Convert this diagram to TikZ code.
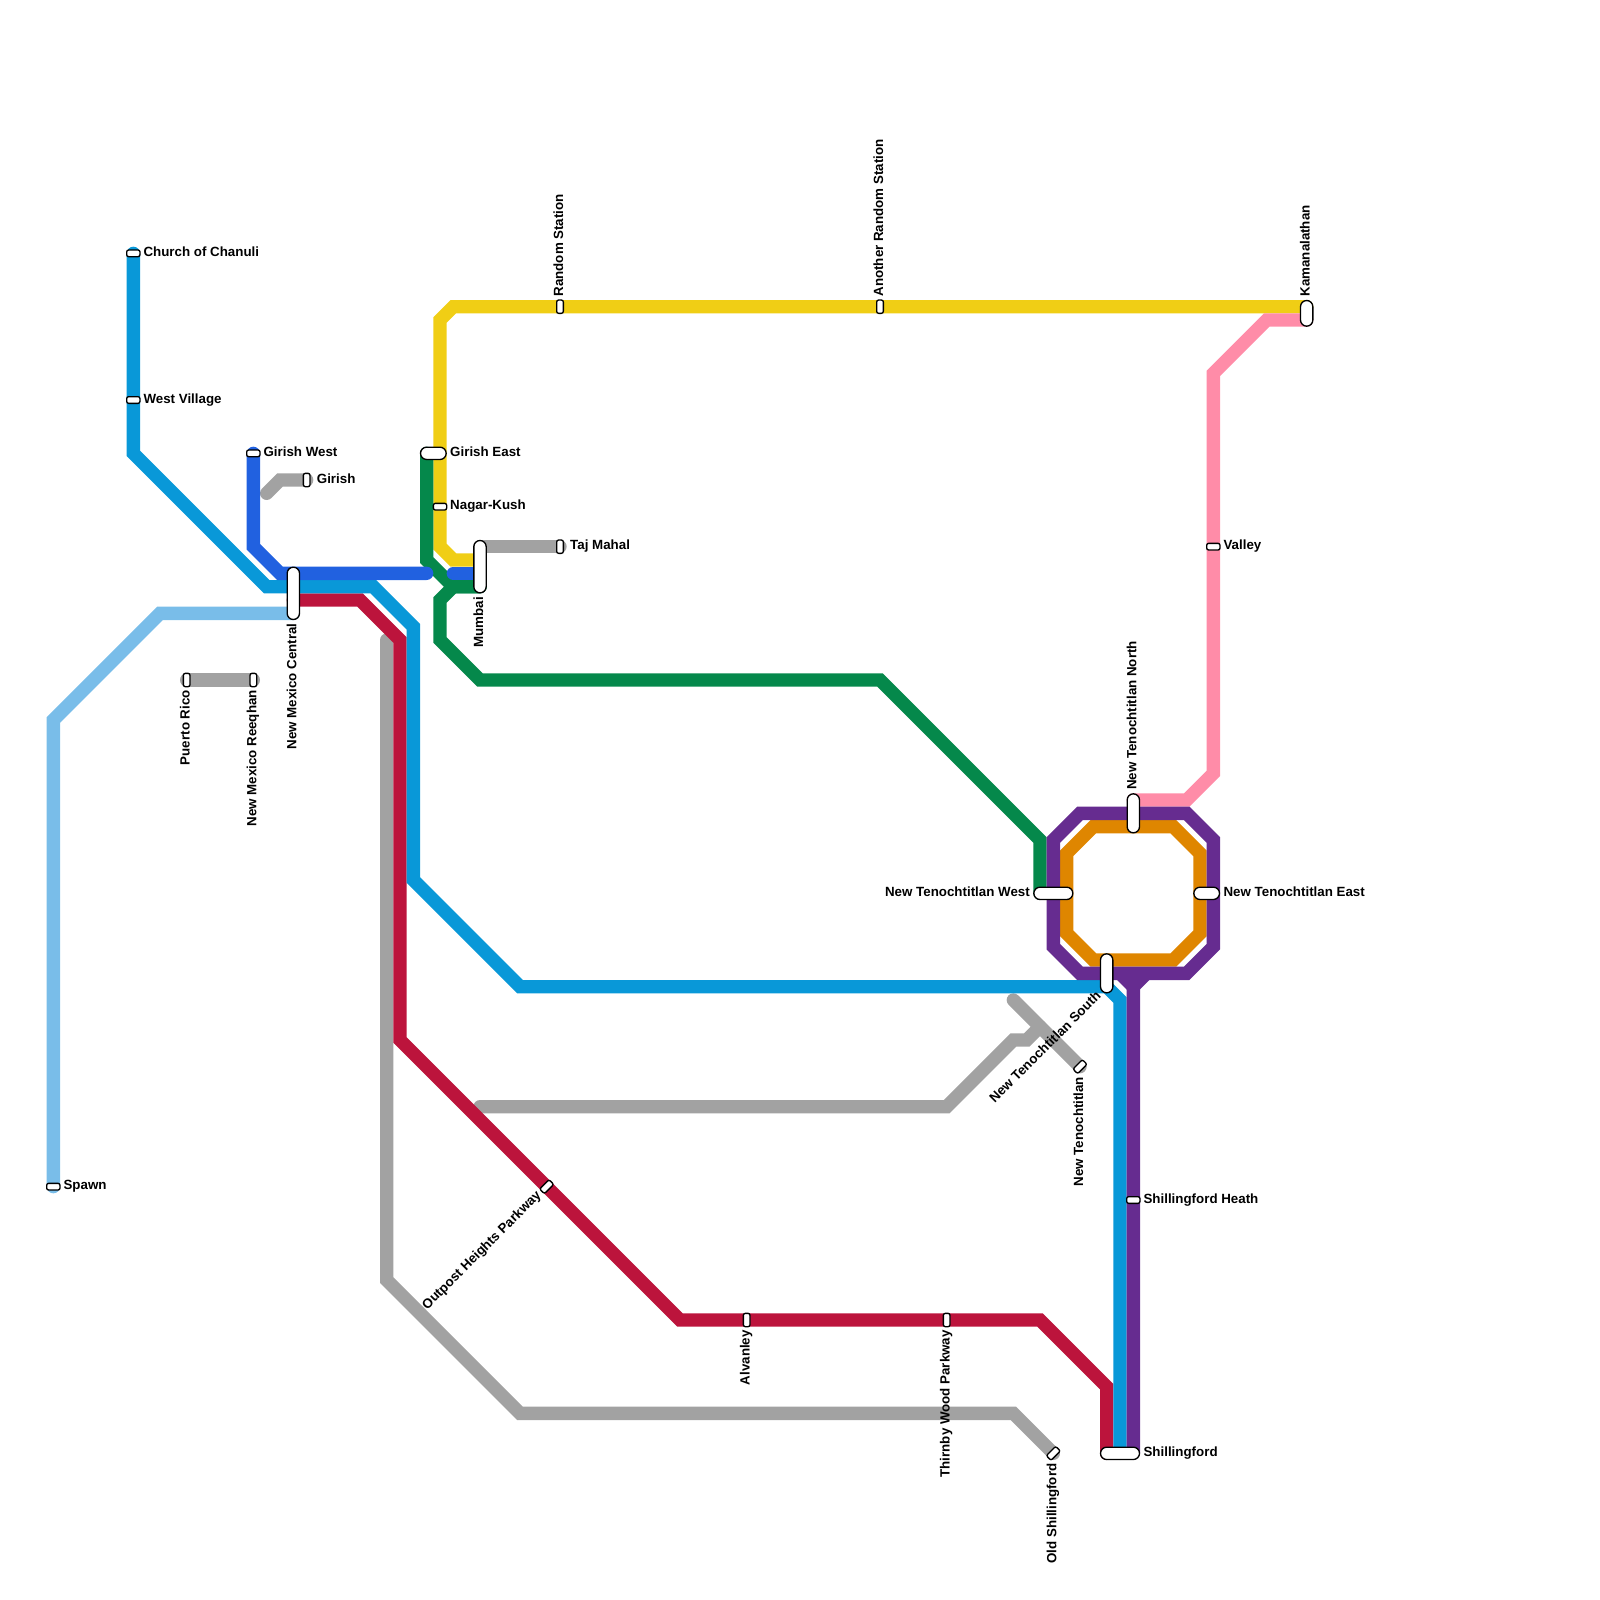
\documentclass[tikz,border=0pt]{standalone}
\usepackage{fontspec}
\setmainfont{Liberation Sans}

\tikzset{
  metro/.style={line width=4mm, line cap=round, line join=miter},
  stnh/.style={draw=black, fill=white, line width=0.4mm, inner sep=0pt, outer sep=0pt,
    minimum width=4mm, minimum height=2mm, rounded corners=0.6mm},
  stnv/.style={stnh, minimum width=2mm, minimum height=4mm},
  stnd/.style={stnh, rotate=45},
  caph/.style={draw=black, fill=white, line width=0.4mm, inner sep=0pt, outer sep=0pt,
    minimum height=3.7mm, minimum width=#1, rounded corners=1.85mm},
  capv/.style={draw=black, fill=white, line width=0.4mm, inner sep=0pt, outer sep=0pt,
    minimum width=3.7mm, minimum height=#1, rounded corners=1.85mm},
  lbl/.style={inner sep=0pt, text height=0.72em, text depth=0.2em,
    font=\fontsize{11.38}{13}\selectfont\bfseries},
  lblr/.style={lbl, anchor=west},
  lbll/.style={lbl, anchor=east},
  lblup/.style={lbl, rotate=90, anchor=west},
  lbldn/.style={lbl, rotate=90, anchor=east},
  lbldg/.style={lbl, rotate=45, anchor=east}
}

\begin{document}
\begin{tikzpicture}[x=4mm,y=-4mm]
  % colors
  \definecolor{lineblue}{RGB}{9,152,216}
  \definecolor{linedark}{RGB}{33,97,224}
  \definecolor{linesky}{RGB}{121,189,233}
  \definecolor{lineyellow}{RGB}{240,206,21}
  \definecolor{linegreen}{RGB}{5,136,75}
  \definecolor{linered}{RGB}{188,20,60}
  \definecolor{linegrey}{RGB}{162,162,162}
  \definecolor{linepurple}{RGB}{102,44,144}
  \definecolor{lineorange}{RGB}{223,134,0}
  \definecolor{linepink}{RGB}{255,140,168}

  \useasboundingbox (0,0) rectangle (120,120);

  % grey lines
  \draw[metro, linegrey] (20,37) -- (21,36) -- (23,36);
  \draw[metro, linegrey] (36,41) -- (42,41);
  \draw[metro, linegrey] (14,51) -- (19,51);
  \draw[metro, linegrey] (29,48) -- (29,96) -- (39,106) -- (76,106) -- (79,109);
  \draw[metro, linegrey] (36,83) -- (71,83) -- (76,78) -- (77,78) -- (78,77);
  \draw[metro, linegrey] (76,75) -- (81,80);

  % yellow and pink
  \draw[metro, lineyellow] (98,23) -- (34,23) -- (33,24) -- (33,41) -- (34,42) -- (36,42);
  \draw[metro, linepink] (98,24) -- (95,24) -- (91,28) -- (91,58) -- (89,60) -- (85,60);

  % green
  \draw[metro, linegreen] (32,34) -- (32,42) -- (34,44) -- (36,44);
  \draw[metro, linegreen] (36,44) -- (34,44) -- (33,45) -- (33,48) -- (36,51) -- (66,51) -- (78,63) -- (78,67);

  % red and light blue
  \draw[metro, linered] (22,45) -- (27,45) -- (30,48) -- (30,78) -- (51,99) -- (78,99) -- (83,104) -- (83,109);
  \draw[metro, linesky] (22,46) -- (12,46) -- (4,54) -- (4,89);

  % blue lines
  \draw[metro, lineblue] (10,19) -- (10,34) -- (20,44) -- (28,44) -- (31,47) -- (31,66) -- (39,74) -- (83,74) -- (84,75) -- (84,109);
  \draw[metro, linedark] (19,34) -- (19,41) -- (21,43) -- (32,43);
  \draw[metro, linedark] (34,43) -- (36,43);

  % ring
  \draw[metro, lineorange] (82,62) -- (88,62) -- (90,64) -- (90,70) -- (88,72) -- (82,72) -- (80,70) -- (80,64) -- cycle;
  \draw[metro, linepurple] (81,61) -- (89,61) -- (91,63) -- (91,71) -- (89,73) -- (81,73) -- (79,71) -- (79,63) -- cycle;
  \draw[metro, linepurple, line cap=butt] (86,73) -- (85,74) -- (85,109);
  \draw[metro, linepurple, line cap=butt] (84,73) -- (85,74);

  % stations
  \node[stnh] (stChurch) at (10,19) {};
  \node[stnh] (stWestVillage) at (10,30) {};
  \node[stnh] (stGirishWest) at (19,34) {};
  \node[stnv] (stGirish) at (23,36) {};
  \node[caph=7.7mm] (stGirishEast) at (32.5,34) {};
  \node[stnh] (stNagarKush) at (33,38) {};
  \node[capv=15.7mm] (stMumbai) at (36,42.5) {};
  \node[stnv] (stTajMahal) at (42,41) {};
  \node[capv=15.7mm] (stCentral) at (22,44.5) {};
  \node[stnv] (stPuertoRico) at (14,51) {};
  \node[stnv] (stReeqhan) at (19,51) {};
  \node[stnh] (stSpawn) at (4,89) {};
  \node[stnv] (stRandom) at (42,23) {};
  \node[stnv] (stAnother) at (66,23) {};
  \node[capv=7.7mm] (stKamanalathan) at (98,23.5) {};
  \node[stnh] (stValley) at (91,41) {};
  \node[capv=11.7mm] (stTenNorth) at (85,61) {};
  \node[caph=7.7mm] (stTenEast) at (90.5,67) {};
  \node[caph=11.7mm] (stTenWest) at (79,67) {};
  \node[capv=11.7mm] (stTenSouth) at (83,73) {};
  \node[stnd] (stTenochtitlan) at (81,80) {};
  \node[stnd] (stOutpost) at (41,89) {};
  \node[stnh] (stHeath) at (85,90) {};
  \node[stnv] (stAlvanley) at (56,99) {};
  \node[stnv] (stThirnby) at (71,99) {};
  \node[stnd] (stOld) at (79,109) {};
  \node[caph=11.7mm] (stShillingford) at (84,109) {};

  % labels
  \node[lblr] (lbChurch) at (10.75,19) {Church of Chanuli};
  \node[lblr] (lbWestVillage) at (10.75,30) {West Village};
  \node[lblr] (lbGirishWest) at (19.75,34) {Girish West};
  \node[lblr] (lbGirish) at (23.75,36) {Girish};
  \node[lblr] (lbGirishEast) at (33.75,34) {Girish East};
  \node[lblr] (lbNagarKush) at (33.75,38) {Nagar-Kush};
  \node[lbldn] (lbMumbai) at (36,44.75) {Mumbai};
  \node[lblr] (lbTajMahal) at (42.75,41) {Taj Mahal};
  \node[lbldn] (lbCentral) at (22,46.75) {New Mexico Central};
  \node[lbldn] (lbPuertoRico) at (14,51.75) {Puerto Rico};
  \node[lbldn] (lbReeqhan) at (19,51.75) {New Mexico Reeqhan};
  \node[lblr] (lbSpawn) at (4.75,89) {Spawn};
  \node[lblup] (lbRandom) at (42,22.25) {Random Station};
  \node[lblup] (lbAnother) at (66,22.25) {Another Random Station};
  \node[lblup] (lbKamanalathan) at (98,22.25) {Kamanalathan};
  \node[lblr] (lbValley) at (91.75,41) {Valley};
  \node[lblup] (lbTenNorth) at (85,59.25) {New Tenochtitlan North};
  \node[lblr] (lbTenEast) at (91.75,67) {New Tenochtitlan East};
  \node[lbll] (lbTenWest) at (77.25,67) {New Tenochtitlan West};
  \node[lbldg] (lbTenSouth) at (82.47,74.6) {New Tenochtitlan South};
  \node[lbldn] (lbTenochtitlan) at (81,80.75) {New Tenochtitlan};
  \node[lbldg] (lbOutpost) at (40.47,89.53) {Outpost Heights Parkway};
  \node[lblr] (lbHeath) at (85.75,90) {Shillingford Heath};
  \node[lbldn] (lbAlvanley) at (56,99.75) {Alvanley};
  \node[lbldn] (lbThirnby) at (71,99.75) {Thirnby Wood Parkway};
  \node[lbldn] (lbOld) at (79,109.75) {Old Shillingford};
  \node[lblr] (lbShillingford) at (85.75,109) {Shillingford};
\end{tikzpicture}
\end{document}
